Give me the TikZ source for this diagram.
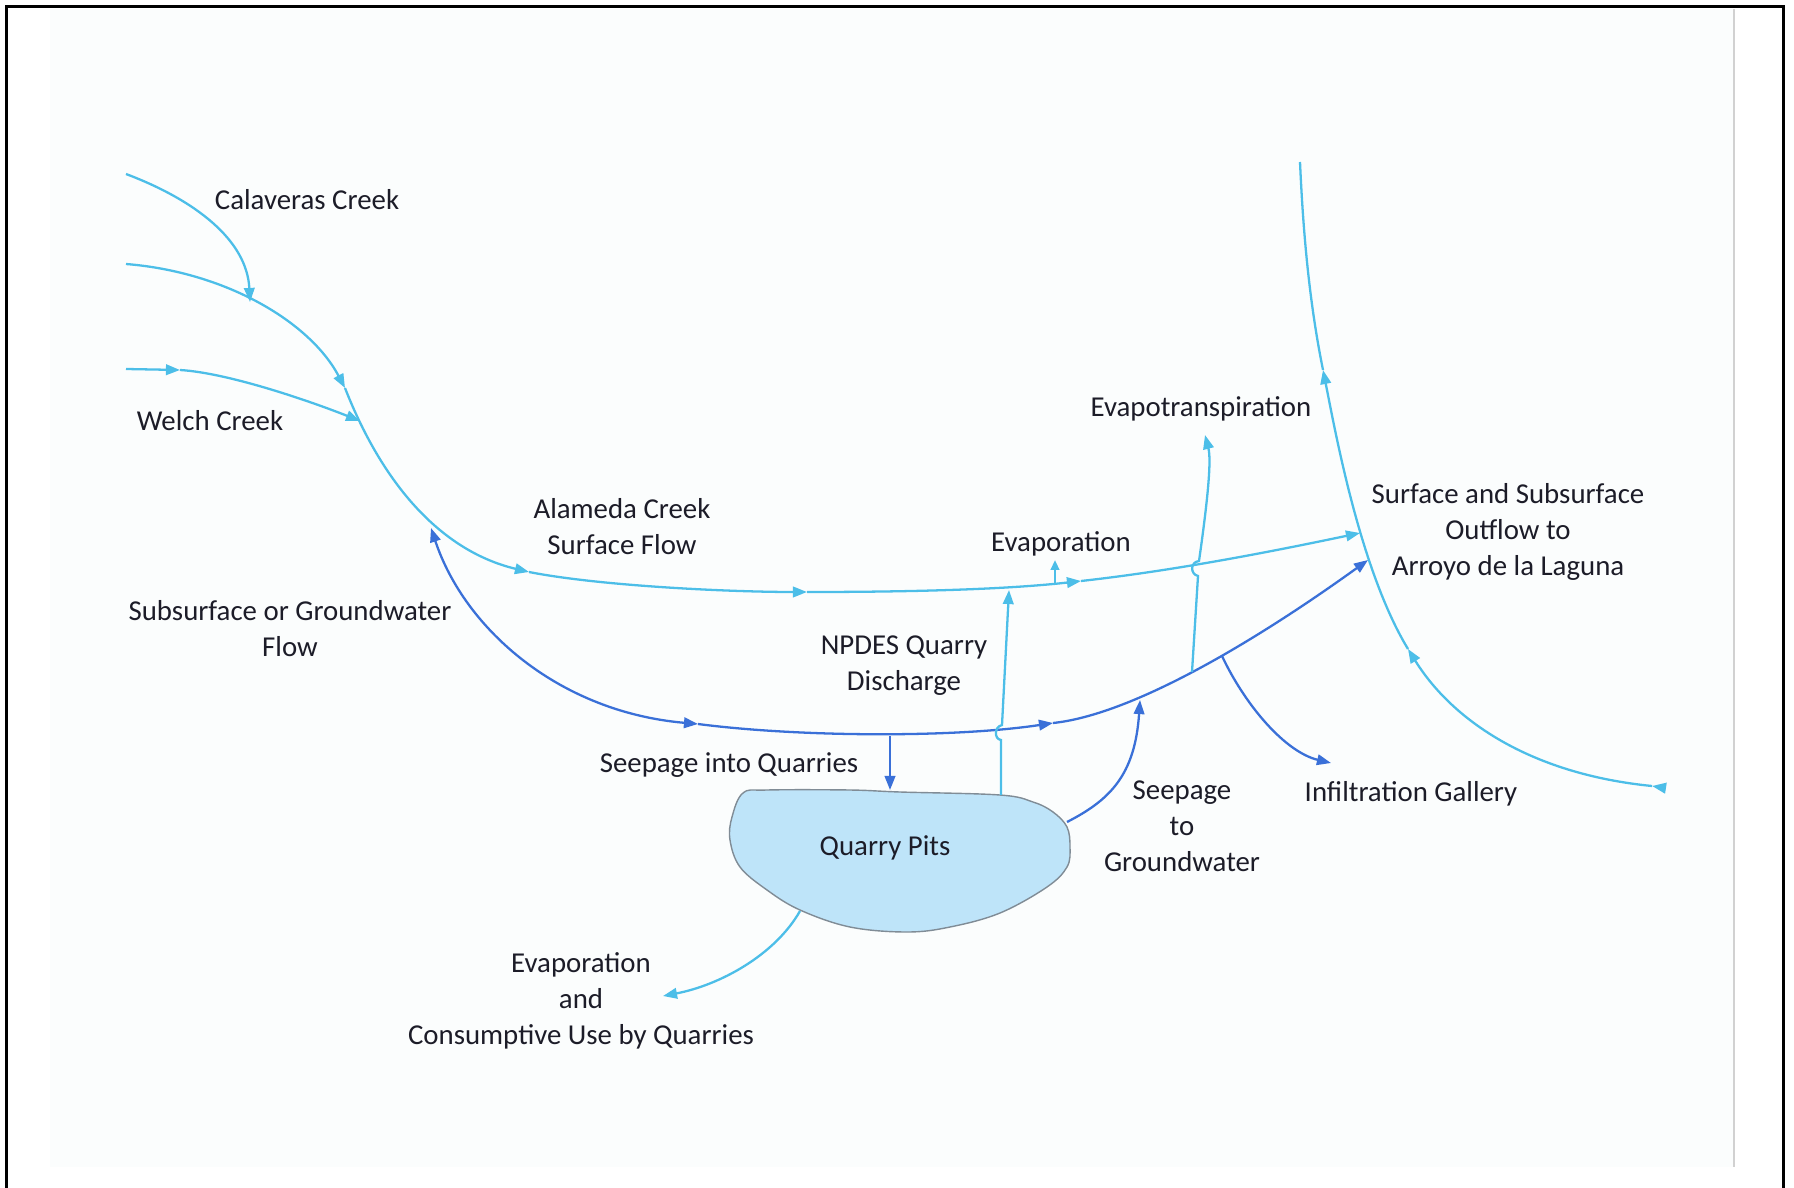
\documentclass[tikz,border=0pt]{standalone}
\usepackage{fontspec}
\setmainfont{Carlito}
\usetikzlibrary{arrows.meta}
\definecolor{creekCyan}{RGB}{76,190,232}
\definecolor{groundBlue}{RGB}{58,112,216}
\definecolor{pitFill}{RGB}{190,228,249}
\definecolor{pitEdge}{RGB}{128,140,150}
\definecolor{labelInk}{RGB}{28,28,40}
\definecolor{paperTint}{RGB}{251,253,253}

\begin{document}
\begin{tikzpicture}[x=0.01cm, y=-0.01cm,
    tip/.style={-{Triangle[length=4pt,width=3pt]}},
    twotip/.style={{Triangle[length=4pt,width=3pt]}-{Triangle[length=4pt,width=3pt]}},
    creek/.style={creekCyan, line width=0.65pt},
    ground/.style={groundBlue, line width=0.65pt},
    lbl/.style={font=\fontsize{8.2}{10.2}\selectfont, text=labelInk, align=center, inner sep=0pt}]
        \useasboundingbox (0,0) rectangle (1794,1188);
        \fill[paperTint] (50,9) rectangle (1734,1167);
        \draw[line width=0.85pt] (6.5,1188) -- (6.5,6.5) -- (1783,6.5) -- (1783,1188);
        \draw[black!18, line width=0.55pt] (1734,9) -- (1734,1167);

        \coordinate (calS) at (126,174);
        \coordinate (calJ) at (250,302);
        \coordinate (upS) at (126,264);
        \coordinate (up1) at (345,388);
        \coordinate (welS) at (126,369);
        \coordinate (wel1) at (180,370);
        \coordinate (welJ) at (360,421);
        \coordinate (al1) at (529,572);
        \coordinate (al2) at (807,592);
        \coordinate (al3) at (1081,581);
        \coordinate (alaJ) at (1360,533);
        \coordinate (gwS) at (431,528);
        \coordinate (gw1) at (698,724);
        \coordinate (gw2) at (1053,723);
        \coordinate (gwJ) at (1368,560);
        \coordinate (arrS) at (1665,788);
        \coordinate (ar1) at (1652,786);
        \coordinate (ar2) at (1408,649);
        \coordinate (ar3) at (1323,370);
        \coordinate (arrE) at (1300,162);
        \coordinate (evS) at (1055,584);
        \coordinate (evE) at (1055,560);
        \coordinate (etS) at (1192,672);
        \coordinate (etE) at (1205,435);
        \coordinate (npS) at (1001,795);
        \coordinate (npE) at (1009,590);
        \coordinate (sqS) at (890,736);
        \coordinate (pitTop) at (890,790);
        \coordinate (pitR) at (1067,822);
        \coordinate (sgE) at (1140,700);
        \coordinate (igS) at (1222,656);
        \coordinate (igE) at (1331,763);
        \coordinate (pitBL) at (800,911);
        \coordinate (ecE) at (663,996);

        \draw[pitEdge, fill=pitFill, line width=0.4pt] plot[smooth cycle, tension=0.6] coordinates {(743,793) (767,790) (850,790) (900,792) (1000,795) (1033,802) (1053,812) (1067,827) (1070,847) (1067,867) (1047,887) (1000,913) (950,927) (907,932) (850,927) (800,910) (767,890) (740,867) (730,840) (732,817)};
        \node[lbl] (pits) at (885,848) {Quarry Pits};

        \draw[creek, tip] (calS) .. controls (195,200) and (247,240) .. (calJ);
        \draw[creek, tip] (welS) -- (wel1);
        \draw[creek, tip] (wel1) .. controls (230,373) and (315,403) .. (welJ);
        \draw[creek, tip] (upS) .. controls (226,272) and (310,322) .. (up1);
        \draw[creek, tip] (up1) .. controls (385,490) and (445,552) .. (al1);
        \draw[creek, tip] (al1) .. controls (600,586) and (730,592) .. (al2);
        \draw[creek, tip] (al2) .. controls (900,592) and (1001,590) .. (al3);
        \draw[creek, tip] (al3) .. controls (1171,571) and (1265,553) .. (alaJ);

        \draw[ground, twotip] (gwS) .. controls (465,630) and (560,712) .. (gw1);
        \draw[ground, tip] (gw1) .. controls (798,737) and (953,738) .. (gw2);
        \draw[ground, tip] (gw2) .. controls (1130,715) and (1250,645) .. (gwJ);

        \draw[creek, tip] (arrS) -- (ar1);
        \draw[creek, tip] (ar1) .. controls (1530,774) and (1452,720) .. (ar2);
        \draw[creek, tip] (ar2) .. controls (1360,570) and (1335,430) .. (ar3);
        \draw[creek] (ar3) .. controls (1309,301) and (1303,230) .. (arrE);

        \draw[creek, -{Triangle[length=2.8pt,width=2.4pt]}] (evS) -- (evE);
        \draw[creek, tip] (etS) -- (1198,576) .. controls (1190,574) and (1190,562) .. (1199,561) .. controls (1206,512) and (1212,462) .. (etE);
        \draw[creek, tip] (npS) -- (1001,740) .. controls (994,739) and (994,727) .. (1002,725) -- (npE);
        \draw[ground, tip] (sqS) -- (pitTop);
        \draw[ground, tip] (pitR) .. controls (1110,800) and (1135,775) .. (sgE);
        \draw[ground, tip] (igS) .. controls (1245,705) and (1285,752) .. (igE);
        \draw[creek, tip] (pitBL) .. controls (775,955) and (720,985) .. (ecE);

        \node[lbl] (calaveras) at (307,200) {Calaveras Creek};
        \node[lbl] (welch) at (210,421) {Welch Creek};
        \node[lbl] (alameda) at (622,527) {Alameda Creek\\Surface Flow};
        \node[lbl] (subsurface) at (290,629) {Subsurface or Groundwater\\Flow};
        \node[lbl] (npdes) at (904,666) {NPDES Quarry\\Discharge};
        \node[lbl] (evap) at (1061,544) {Evaporation};
        \node[lbl] (evapotr) at (1201,409) {Evapotranspiration};
        \node[lbl] (outflow) at (1508,532) {Surface and Subsurface\\Outflow to\\Arroyo de la Laguna};
        \node[lbl] (seepin) at (729,765) {Seepage into Quarries};
        \node[lbl] (seepout) at (1182,826) {Seepage\\to\\Groundwater};
        \node[lbl] (gallery) at (1411,794) {Infiltration Gallery};
        \node[lbl] (consume) at (581,1001) {Evaporation\\and\\Consumptive Use by Quarries};
      \end{tikzpicture}
\end{document}
